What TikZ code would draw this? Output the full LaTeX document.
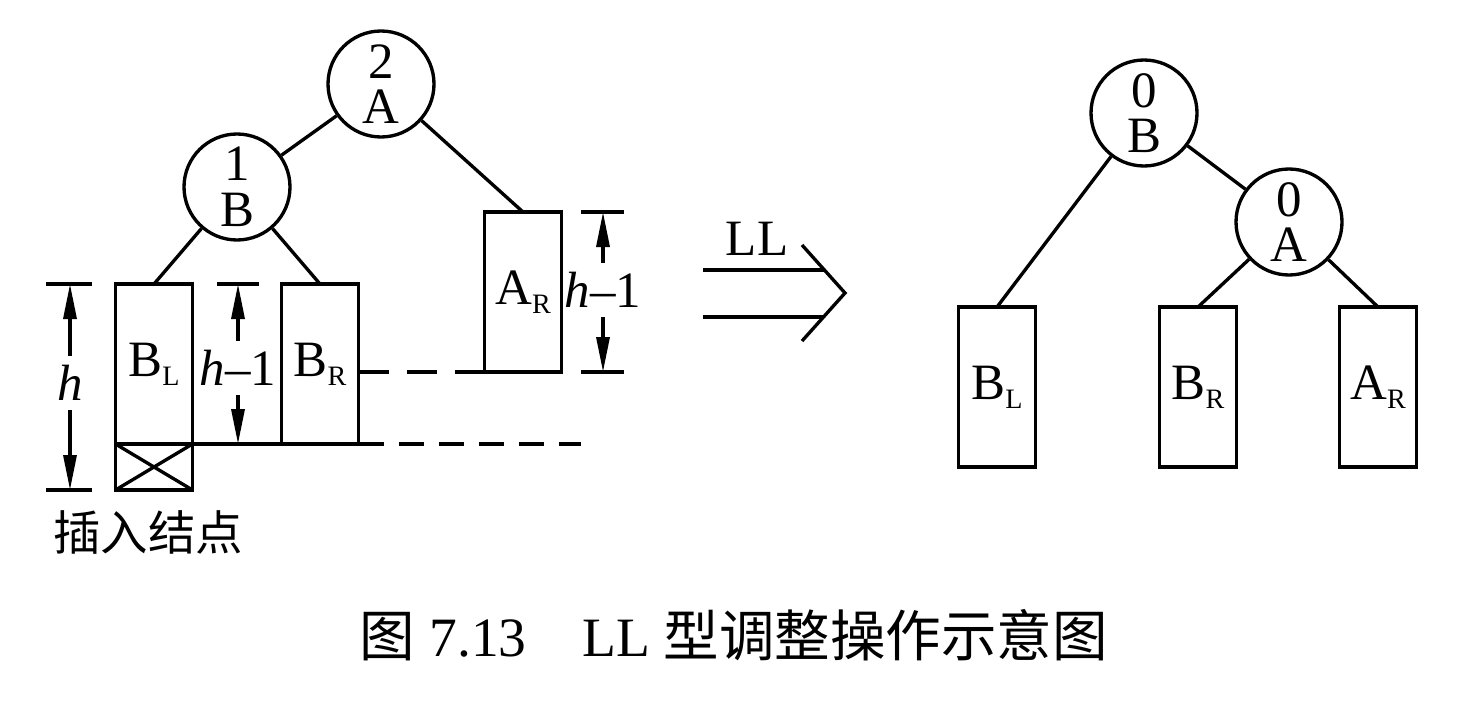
\documentclass[tikz,border=0pt]{standalone}
\usepackage{fontspec}
\setmainfont{Liberation Serif}
\newfontfamily\cjk{Noto Sans CJK SC}
\usetikzlibrary{arrows.meta,positioning,calc}
\newcommand{\tsub}[2]{#1\raisebox{-0.9mm}{\fontsize{8}{8}\selectfont #2}}

\begin{document}
\begin{tikzpicture}[x=0.1mm,y=-0.1mm,line width=0.95pt,font=\fontsize{14.5}{13}\selectfont,
  vertex/.style={circle,draw,minimum size=10.6mm,inner sep=0pt,align=center},
  subtree/.style={draw,minimum width=7.7mm,minimum height=16mm,inner sep=0pt,outer sep=0pt},
  dimlab/.style={inner sep=0.8mm},
  dim/.style={-{Triangle[length=3.5mm,width=1.3mm]}},
  gap/.style={dash pattern=on 2.5mm off 1.5mm}]
\useasboundingbox (0,0) rectangle (1474,704);
% before
\node[vertex] (a) at (381,84) {2\\A};
\node[vertex] (b) at (237,187) {1\\B};
\node[subtree] (bl) at (154,364) {\tsub{B}{L}};
\node[subtree] (br) at (320,364) {\tsub{B}{R}};
\node[subtree] (ar) at (523,292) {\tsub{A}{R}};
\node[subtree,minimum height=4.6mm,below=0pt of bl] (ins) {};
\draw (ins.north west) -- (ins.south east) (ins.north east) -- (ins.south west);
\draw (a) -- (b) (a) -- (ar.north) (b) -- (bl.north) (b) -- (br.north);
\draw (bl.south east) -- (br.south east);
\draw[gap] (br.south east) -- ++(222,0);
\draw[dash pattern=on 3mm off 1.8mm] (br.east |- ar.south) -- (ar.south west);
\node[dimlab] (h) at (70,383) {\textit{h}};
\draw[dim] (h) -- (h |- bl.north);
\draw[dim] (h) -- (h |- ins.south);
\draw ($(h |- bl.north)+(-24,0)$) -- ++(46,0);
\draw ($(h |- ins.south)+(-24,0)$) -- ++(46,0);
\node[dimlab] (hm) at (238,368) {\textit{h}–1};
\draw[dim] (hm) -- (hm |- bl.north);
\draw[dim] (hm) -- (hm |- bl.south);
\draw ($(hm |- bl.north)+(-21,0)$) -- ++(42,0);
\node[dimlab] (hr) at (603,290) {\textit{h}–1};
\draw[dim] (hr) -- (hr |- ar.north);
\draw[dim] (hr) -- (hr |- ar.south);
\draw ($(hr |- ar.north)+(-22,0)$) -- ++(43,0);
\draw ($(hr |- ar.south)+(-22,0)$) -- ++(43,0);
\node[font=\cjk\fontsize{13.5}{16}\selectfont] (insl) at (148,532) {插入结点};
% LL
\node (ll) at (757,239) {LL};
\coordinate (tip) at (845,293);
\draw (tip) ++(-43,-48) -- (tip) -- ++(-43,48);
\draw (703,270) -- (824,270) (703,317) -- (824,317);
% after
\node[vertex] (b2) at (1144,113) {0\\B};
\node[vertex] (a2) at (1289,222) {0\\A};
\node[subtree] (bl2) at (997,387) {\tsub{B}{L}};
\node[subtree] (br2) at (1198,387) {\tsub{B}{R}};
\node[subtree] (ar2) at (1378,387) {\tsub{A}{R}};
\draw (b2) -- (bl2.north) (b2) -- (a2) (a2) -- (br2.north) (a2) -- (ar2.north);
\node[font=\fontsize{15.8}{18}\selectfont] (cap) at (734,635)
  {{\cjk 图} 7.13\hspace{1em}LL {\cjk 型调整操作示意图}};
\end{tikzpicture}
\end{document}
